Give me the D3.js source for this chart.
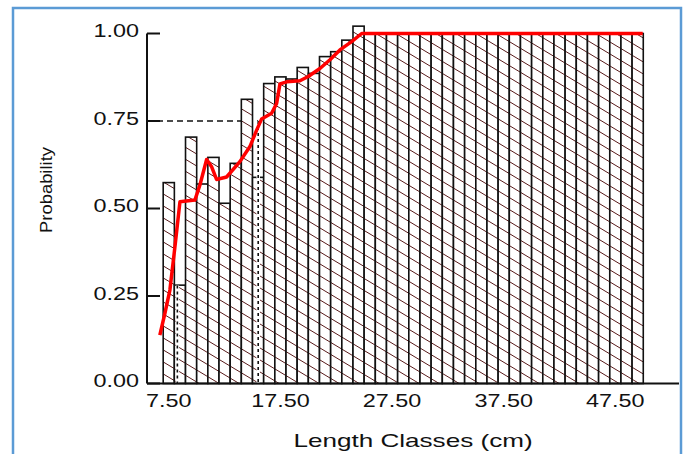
<!DOCTYPE html>
<html>
<head>
<meta charset="utf-8">
<script src="https://cdn.jsdelivr.net/npm/d3@7"></script>
<style>
  body { margin: 0; background: #fff; }
  text { font-family: "Liberation Sans", Arial, sans-serif; fill: #111; }
</style>
</head>
<body>
<div id="chart"></div>
<script>
// length classes (cm, class mid points) and observed probability per class
var classMid = [7.5, 8.5, 9.5, 10.5, 11.5, 12.5, 13.5, 14.5, 15.5, 16.5,
  17.5, 18.5, 19.5, 20.5, 21.5, 22.5, 23.5, 24.5, 25.5, 26.5,
  27.5, 28.5, 29.5, 30.5, 31.5, 32.5, 33.5, 34.5, 35.5, 36.5,
  37.5, 38.5, 39.5, 40.5, 41.5, 42.5, 43.5, 44.5, 45.5, 46.5,
  47.5, 48.5, 49.5];
var obsProb = [0.574, 0.281, 0.704, 0.57, 0.646, 0.515, 0.629, 0.812, 0.589, 0.857,
  0.876, 0.87, 0.903, 0.886, 0.934, 0.948, 0.981, 1.021, 1, 1,
  1, 1, 1, 1, 1, 1, 1, 1, 1, 1,
  1, 1, 1, 1, 1, 1, 1, 1, 1, 1,
  1, 1, 1];

// fitted (red) probability curve
var curveLen = [6.70, 7.15, 7.60, 8.05, 8.50, 9.84, 10.29, 10.89, 11.34, 11.78,
  12.68, 13.87, 14.77, 15.37, 15.82, 16.71, 17.16, 17.46, 18.06, 19.25,
  19.99, 21.04, 21.94, 22.83, 23.88, 24.78, 49.95];
var curveProb = [0.138, 0.20, 0.267, 0.39, 0.519, 0.524, 0.567, 0.64, 0.619, 0.583,
  0.59, 0.634, 0.677, 0.724, 0.756, 0.772, 0.80, 0.856, 0.862, 0.865,
  0.877, 0.90, 0.925, 0.953, 0.977, 1.0, 1.0];

// dotted reference lines (length, probability at top)
var refLen = [8.27, 15.51];
var refProb = [0.28, 0.75];

var xTicks = [7.5, 17.5, 27.5, 37.5, 47.5];
var yTicks = [0, 0.25, 0.5, 0.75, 1];

var width = 688, height = 454;

var x = d3.scaleLinear().domain([5.55, 53.2]).range([147, 679]);
var y = d3.scaleLinear().domain([0, 1]).range([383.5, 33.5]);

var svg = d3.select('#chart').append('svg')
  .attr('width', width)
  .attr('height', height);

svg.append('rect').attr('width', width).attr('height', height).attr('fill', '#fff');

// hatch fill for bars
var pat = svg.append('defs').append('pattern')
  .attr('id', 'hatch')
  .attr('patternUnits', 'userSpaceOnUse')
  .attr('width', 20).attr('height', 12);
pat.append('rect').attr('width', 20).attr('height', 12).attr('fill', '#fff');
pat.append('path')
  .attr('d', 'M-10,-6L30,18M-10,6L10,18M10,-6L30,6')
  .attr('stroke', '#5a1c1c')
  .attr('stroke-width', 1);

// outer blue frame
svg.append('rect')
  .attr('x', 13).attr('y', 8)
  .attr('width', 668).attr('height', 470)
  .attr('fill', 'none')
  .attr('stroke', '#5b9bd5')
  .attr('stroke-width', 2.5);

// dashed horizontal at 0.75 (below bars)
svg.append('line')
  .attr('x1', x.range()[0]).attr('x2', x(refLen[1]))
  .attr('y1', y(refProb[1])).attr('y2', y(refProb[1]))
  .attr('stroke', '#111')
  .attr('stroke-width', 1.4)
  .attr('stroke-dasharray', '6,4');

var bars = classMid.map(function(d, i) { return { mid: d, p: obsProb[i] }; });

svg.selectAll('.bar')
  .data(bars)
  .enter()
  .append('rect')
  .attr('class', 'bar')
  .attr('x', function(d) { return x(d.mid - 0.5); })
  .attr('width', function(d) { return x(d.mid + 0.5) - x(d.mid - 0.5); })
  .attr('y', function(d) { return y(d.p); })
  .attr('height', function(d) { return y(0) - y(d.p); })
  .attr('fill', 'url(#hatch)')
  .attr('stroke', '#111')
  .attr('stroke-width', 1.6);

// dotted drop lines, white under-stroke cuts the hatching
refLen.forEach(function(l, i) {
  svg.append('line')
    .attr('x1', x(l)).attr('x2', x(l))
    .attr('y1', y(refProb[i])).attr('y2', y(0))
    .attr('stroke', '#fff')
    .attr('stroke-width', 3.5);
  svg.append('line')
    .attr('x1', x(l)).attr('x2', x(l))
    .attr('y1', y(refProb[i])).attr('y2', y(0))
    .attr('stroke', '#111')
    .attr('stroke-width', 1.6)
    .attr('stroke-dasharray', '3,3');
});

// red probability curve
var line = d3.line()
  .x(function(d) { return x(d[0]); })
  .y(function(d) { return y(d[1]); });

svg.append('path')
  .datum(curveLen.map(function(d, i) { return [d, curveProb[i]]; }))
  .attr('d', line)
  .attr('fill', 'none')
  .attr('stroke', '#ff0000')
  .attr('stroke-width', 3.5)
  .attr('stroke-linejoin', 'round');

// axes
svg.append('line')
  .attr('x1', x.range()[0]).attr('x2', x.range()[1])
  .attr('y1', y(0)).attr('y2', y(0))
  .attr('stroke', '#111').attr('stroke-width', 2);

svg.append('line')
  .attr('x1', x.range()[0]).attr('x2', x.range()[0])
  .attr('y1', y(0)).attr('y2', y(1))
  .attr('stroke', '#111').attr('stroke-width', 2);

svg.selectAll('.ytick')
  .data(yTicks)
  .enter()
  .append('line')
  .attr('x1', x.range()[0]).attr('x2', x.range()[0] + 13)
  .attr('y1', function(d) { return y(d); })
  .attr('y2', function(d) { return y(d); })
  .attr('stroke', '#111').attr('stroke-width', 2);

var fmt = d3.format('.2f');

svg.selectAll('.ylab')
  .data(yTicks)
  .enter()
  .append('text')
  .attr('transform', function(d) { return 'translate(139,' + (y(d) + 3.5) + ') scale(1.3,1)'; })
  .attr('text-anchor', 'end')
  .style('font-size', '18px')
  .text(fmt);

svg.selectAll('.xlab')
  .data(xTicks)
  .enter()
  .append('text')
  .attr('transform', function(d) { return 'translate(' + x(d) + ',407) scale(1.3,1)'; })
  .attr('text-anchor', 'middle')
  .style('font-size', '18px')
  .text(fmt);

svg.append('text')
  .attr('transform', 'translate(413,447) scale(1.45,1)')
  .attr('text-anchor', 'middle')
  .style('font-size', '18px')
  .text('Length Classes (cm)');

svg.append('text')
  .attr('transform', 'translate(51.5,190) rotate(-90) scale(1.15,1)')
  .attr('text-anchor', 'middle')
  .style('font-size', '16px')
  .text('Probability');
</script>
</body>
</html>
